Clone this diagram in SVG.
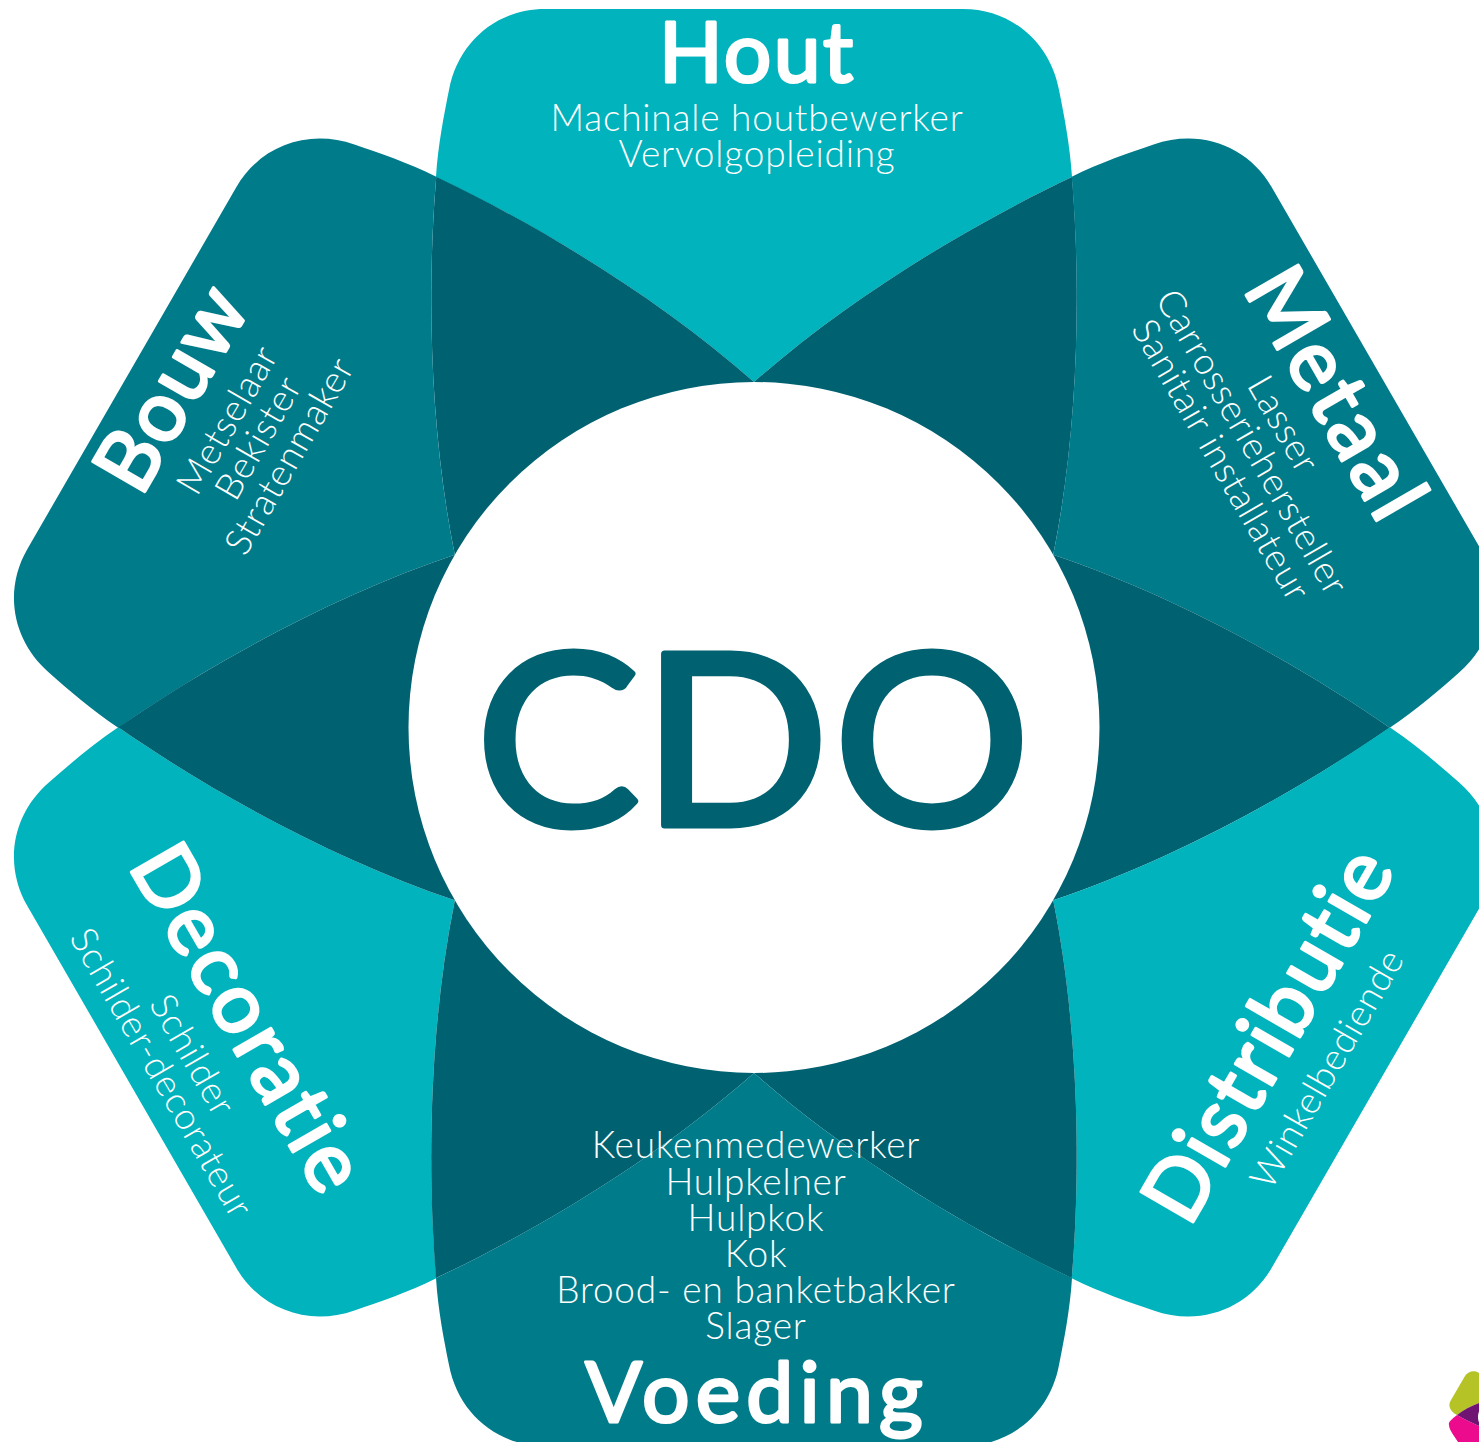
<svg xmlns="http://www.w3.org/2000/svg" width="1479" height="1442" viewBox="0 0 1479 1442">
<style>
.h{font-family:"Lato","Open Sans",sans-serif;font-weight:400;font-size:84px;fill:#fff;stroke:#fff;stroke-width:3px;stroke-linejoin:round;text-anchor:middle}
.s{font-family:"Lato","Open Sans",sans-serif;font-weight:300;font-size:37px;letter-spacing:.8px;fill:#fff;text-anchor:middle}
.a{fill:#00b3bc}.b{fill:#007b8a}.d{fill:#006170}
</style>
<defs>
<path id="kite" d="M754 382C660 299 540 226 436 177C438 145 444 115 449 90C458 42 497 9 545 9L963 9C1011 9 1050 42 1059 90C1064 115 1070 145 1072 177C968 226 848 299 754 382Z"/>
<path id="lens" d="M754 382C848 299 968 226 1072 177C1081.3 291.5 1078.1 431.9 1053.2 554.75L754 727.5Z"/>
</defs>
<g id="node-hout">
<use href="#kite" class="a"/>
<use href="#lens" class="d"/>
<use href="#lens" class="d" transform="rotate(-60 754 727.5)"/>
<text class="h" x="757" y="82" letter-spacing="2.3">Hout</text>
<text class="s" x="757" y="131">Machinale houtbewerker</text>
<text class="s" x="757" y="167">Vervolgopleiding</text>
</g>
<g id="node-metaal">
<use href="#kite" class="b" transform="rotate(60 754 727.5)"/>
<use href="#lens" class="d" transform="rotate(60 754 727.5)"/>
<g transform="rotate(60 754 727.5)">
<text class="h" x="757" y="85" letter-spacing="4">Metaal</text>
<text class="s" x="756" y="130">Lasser</text>
<text class="s" x="756" y="166">Carrosseriehersteller</text>
<text class="s" x="756" y="202">Sanitair installateur</text>
</g>
</g>
<g id="node-distributie">
<use href="#kite" class="a" transform="rotate(120 754 727.5)"/>
<use href="#lens" class="d" transform="rotate(120 754 727.5)"/>
<g transform="rotate(-60 754 727.5)">
<text class="h" x="746" y="1355" letter-spacing="2.5">Distributie</text>
<text class="s" x="745" y="1407">Winkelbediende</text>
</g>
</g>
<g id="node-decoratie">
<use href="#kite" class="a" transform="rotate(240 754 727.5)"/>
<use href="#lens" class="d" transform="rotate(180 754 727.5)"/>
<g transform="rotate(60 754 727.5)">
<text class="h" x="754" y="1339" letter-spacing="3">Decoratie</text>
<text class="s" x="757" y="1390">Schilder</text>
<text class="s" x="757" y="1426">Schilder-decorateur</text>
</g>
</g>
<g id="node-bouw">
<use href="#kite" class="b" transform="rotate(300 754 727.5)"/>
<use href="#lens" class="d" transform="rotate(240 754 727.5)"/>
<g transform="rotate(-60 754 727.5)">
<text class="h" x="757" y="82" letter-spacing="2">Bouw</text>
<text class="s" x="757" y="130">Metselaar</text>
<text class="s" x="757" y="166">Bekister</text>
<text class="s" x="757" y="202">Stratenmaker</text>
</g>
</g>
<g id="node-voeding">
<use href="#kite" class="b" transform="rotate(180 754 727.5)"/>
<text class="s" x="756" y="1158">Keukenmedewerker</text>
<text class="s" x="756" y="1195">Hulpkelner</text>
<text class="s" x="756" y="1231">Hulpkok</text>
<text class="s" x="756" y="1267">Kok</text>
<text class="s" x="756" y="1303">Brood- en banketbakker</text>
<text class="s" x="756" y="1339">Slager</text>
<text class="h" x="757" y="1422" letter-spacing="6.2">Voeding</text>
</g>
<g id="node-cdo">
<circle cx="754" cy="727.5" r="345.5" fill="#fff"/>
<text transform="translate(753 825) scale(1.03 1)" text-anchor="middle" font-family="Lato, sans-serif" font-size="238" fill="#006170" stroke="#006170" stroke-width="7" stroke-linejoin="round">C<tspan dx="2.5">D</tspan><tspan dx="5">O</tspan></text>
</g>
<g id="logo">
<path fill="#b5c327" d="M1479 1373C1475 1370 1468 1371 1465 1376L1451 1400C1447 1406 1451 1412 1457 1415C1463 1410 1471 1406 1479 1403Z"/>
<path fill="#ec0b8d" d="M1457 1415C1452 1419 1448 1422 1449 1425C1449 1428 1451 1431 1452 1433L1458 1442H1479V1426C1471 1422 1463 1419 1457 1415Z"/>
<path fill="#6f1473" d="M1457 1415C1463 1410 1471 1406 1479 1403V1426C1471 1422 1463 1419 1457 1415Z"/>
<ellipse cx="1480" cy="1417" rx="2" ry="6" fill="#fff"/>
</g>
</svg>
